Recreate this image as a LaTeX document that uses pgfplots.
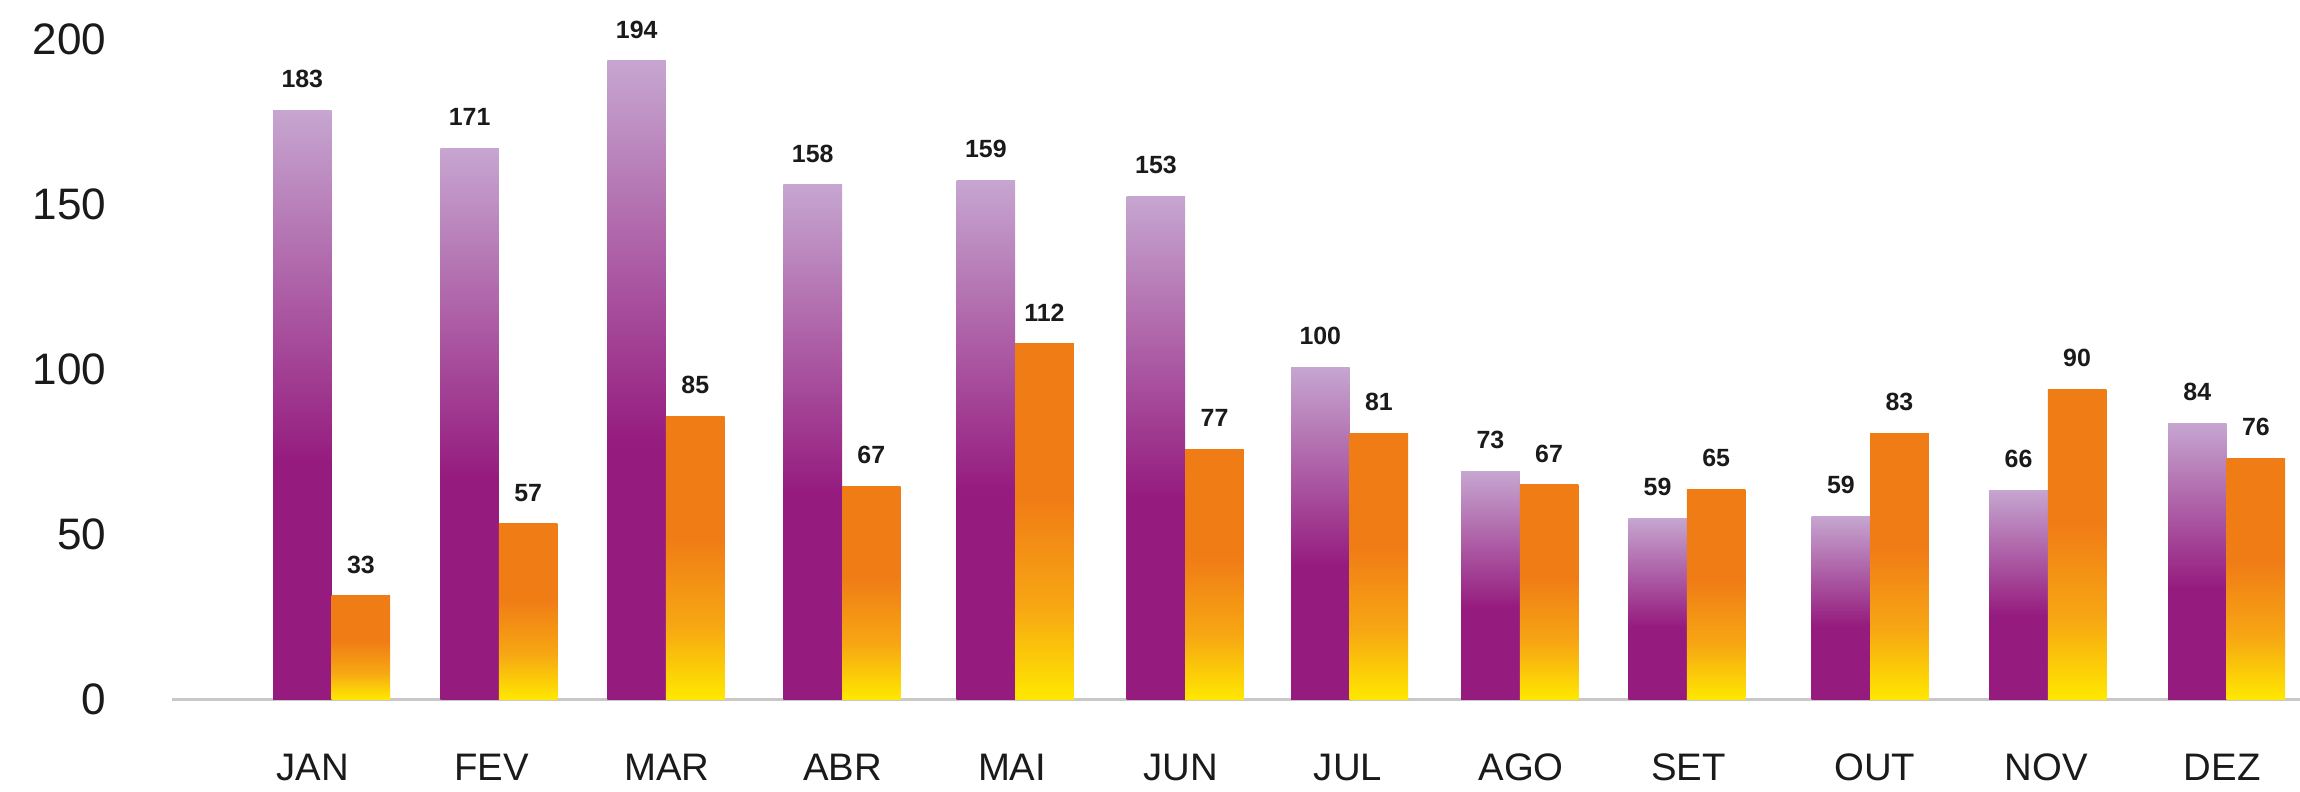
\documentclass[border=0pt]{standalone}
\usepackage{pgfplots}
\pgfplotsset{compat=1.18}
\usepackage{fontspec}
\setmainfont{Liberation Sans}
\definecolor{pdark}{HTML}{951B7E}
\definecolor{plight}{HTML}{C6A6D0}
\definecolor{org}{HTML}{F07C16}
\definecolor{omid}{HTML}{F7A713}
\definecolor{yel}{HTML}{FFE800}
\definecolor{axgray}{HTML}{C8C8C8}
\definecolor{txt}{HTML}{1A1A1A}
\pgfdeclareverticalshading{purplebar}{100bp}{color(0bp)=(pdark); color(25bp)=(pdark); color(45bp)=(pdark); color(75bp)=(plight); color(100bp)=(plight)}
\pgfdeclareverticalshading{orangebar}{100bp}{color(0bp)=(yel); color(25bp)=(yel); color(38bp)=(omid); color(53.5bp)=(org); color(100bp)=(org)}
\pgfplotsset{
  purp/.style={ybar, bar shift=-0.17, draw=none, shading=purplebar,
    nodes near coords style={xshift=-7.64pt}},
  oran/.style={ybar, bar shift=0.17, draw=none, shading=orangebar,
    nodes near coords style={xshift=7.64pt}},
}
\begin{document}
\begin{tikzpicture}
\begin{axis}[
  at={(0,0)}, anchor=south west,
  scale only axis,
  width=555.2pt, height=172.2pt,
  xmin=-0.928, xmax=11.426,
  ymin=0, ymax=200,
  enlarge x limits=false, enlarge y limits=false,
  clip=false,
  axis x line*=bottom, axis y line*=left,
  x axis line style={draw=axgray, line width=0.8pt, -},
  y axis line style={draw=none},
  major tick length=0pt,
  ytick={0,50,100,150,200},
  xtick={-0.11,0.928,1.945,2.967,3.95,4.93,5.90,6.905,7.876,8.957,9.953,10.975},
  xticklabels={JAN,FEV,MAR,ABR,MAI,JUN,JUL,AGO,SET,OUT,NOV,DEZ},
  /pgf/number format/assume math mode=true,
  yticklabel style={font=\fontsize{11.5}{12}\selectfont, text=txt, anchor=east, inner sep=0pt, xshift=-16.9pt},
  xticklabel style={font=\fontsize{10}{11}\selectfont, text=txt, anchor=base, inner sep=0pt, yshift=-21.2pt},
  bar width=0.34,
  point meta=explicit symbolic,
  nodes near coords,
  nodes near coords style={font=\bfseries\fontsize{6.5}{7}\selectfont, text=txt, anchor=base, inner sep=0pt, yshift=5.9pt},
]
% purple series (JAN..DEZ)
\addplot[purp] coordinates {(0,178.6) [183]};
\addplot[purp] coordinates {(0.971,167.1) [171]};
\addplot[purp] coordinates {(1.941,193.5) [194]};
\addplot[purp] coordinates {(2.963,156.0) [158]};
\addplot[purp] coordinates {(3.968,157.4) [159]};
\addplot[purp] coordinates {(4.955,152.5) [153]};
\addplot[purp] coordinates {(5.909,100.7) [100]};
\addplot[purp] coordinates {(6.897,69.1) [73]};
\addplot[purp] coordinates {(7.867,55.0) [59]};
\addplot[purp] coordinates {(8.931,55.5) [59]};
\addplot[purp] coordinates {(9.962,63.5) [66]};
\addplot[purp] coordinates {(11.0,83.8) [84]};
% orange series (JAN..DEZ)
\addplot[oran] coordinates {(0,31.5) [33]};
\addplot[oran] coordinates {(0.971,53.3) [57]};
\addplot[oran] coordinates {(1.941,85.8) [85]};
\addplot[oran] coordinates {(2.963,64.7) [67]};
\addplot[oran] coordinates {(3.968,107.8) [112]};
\addplot[oran] coordinates {(4.955,75.8) [77]};
\addplot[oran] coordinates {(5.909,80.7) [81]};
\addplot[oran] coordinates {(6.897,65.1) [67]};
\addplot[oran] coordinates {(7.867,63.7) [65]};
\addplot[oran] coordinates {(8.931,80.7) [83]};
\addplot[oran] coordinates {(9.962,94.0) [90]};
\addplot[oran] coordinates {(11.0,73.1) [76]};
\coordinate (O) at (axis cs:-0.928,0);
\end{axis}
\pgfresetboundingbox
\path[use as bounding box] ([shift={(-44.8pt,-23.9pt)}]O) rectangle ([shift={(555.2pt,182.5pt)}]O);
\end{tikzpicture}
\end{document}
